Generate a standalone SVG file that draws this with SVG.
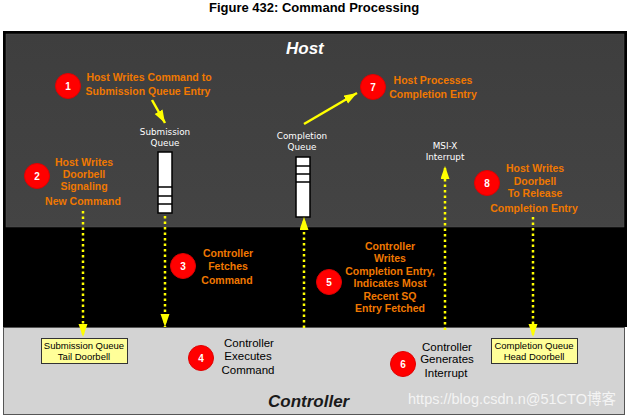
<svg xmlns="http://www.w3.org/2000/svg" width="631" height="419" viewBox="0 0 631 419">
<defs>
<style>
.title{font-family:"Liberation Sans",Arial,sans-serif;font-weight:bold;font-size:13px;fill:#000}
.or{font-family:"Liberation Sans",Arial,sans-serif;font-weight:bold;font-size:10.5px;fill:#f07800;text-anchor:middle}
.bk{font-family:"Liberation Sans",Arial,sans-serif;font-size:11.5px;fill:#000;text-anchor:middle}
.ql{font-family:"DejaVu Sans",sans-serif;font-size:8.8px;fill:#fff;text-anchor:middle}
.db{font-family:"Liberation Sans",Arial,sans-serif;font-size:9.5px;fill:#000;text-anchor:middle}
.num{font-family:"Liberation Sans",Arial,sans-serif;font-weight:bold;font-size:10px;fill:#fff;text-anchor:middle}
.circ{fill:#ff0000;stroke:#e00000;stroke-width:1}
.dot{stroke:#ffff00;stroke-width:2.5;stroke-dasharray:2.5 3;fill:none}
.sol{stroke:#ffff00;stroke-width:2.5;fill:none}
.dbox{fill:#ffff99;stroke:#333;stroke-width:1}
.q{fill:#fff;stroke:#000;stroke-width:1.5}
.qd{stroke:#000;stroke-width:1.5}
</style>
<marker id="ah" markerUnits="userSpaceOnUse" markerWidth="14" markerHeight="10" refX="13" refY="4.5" orient="auto">
<path d="M0,0 L13,4.5 L0,9 Z" fill="#ffff00"/>
</marker>
<linearGradient id="hostg" x1="0" y1="0" x2="0" y2="1">
<stop offset="0" stop-color="#3e3e3e"/>
<stop offset="1" stop-color="#444444"/>
</linearGradient>
</defs>
<rect x="0" y="0" width="631" height="419" fill="#fff"/>
<text class="title" x="209" y="12">Figure 432: Command Processing</text>

<g id="frame">
<rect x="3" y="31" width="624" height="296" fill="#000"/>
<rect id="host-panel" x="6" y="34" width="618" height="193" fill="url(#hostg)" stroke="#555" stroke-width="0.5"/>
<rect id="controller-panel" x="3.5" y="327.5" width="621" height="87" fill="#d3d3d3" stroke="#555" stroke-width="1"/>
<text x="286" y="54" font-family="Liberation Sans,Arial,sans-serif" font-weight="bold" font-style="italic" font-size="17" fill="#fff">Host</text>
<text x="268" y="407" font-family="Liberation Sans,Arial,sans-serif" font-weight="bold" font-style="italic" font-size="17" fill="#1a1a1a">Controller</text>
</g>

<g id="connectors">
<line class="sol" x1="152" y1="100" x2="165" y2="123" marker-end="url(#ah)"/>
<line class="sol" x1="304" y1="124" x2="357" y2="93" marker-end="url(#ah)"/>
<line class="dot" x1="83" y1="211" x2="83" y2="337" marker-end="url(#ah)"/>
<line class="dot" x1="165" y1="216" x2="165" y2="327" marker-end="url(#ah)"/>
<line class="dot" x1="304" y1="328" x2="304" y2="217" marker-end="url(#ah)"/>
<line class="dot" x1="445" y1="330" x2="445" y2="166" marker-end="url(#ah)"/>
<line class="dot" x1="533" y1="217" x2="533" y2="337" marker-end="url(#ah)"/>
</g>

<g id="submission-queue">
<rect class="q" x="158" y="152" width="14" height="61"/>
<line class="qd" x1="158" y1="187" x2="172" y2="187"/>
<line class="qd" x1="158" y1="196" x2="172" y2="196"/>
<line class="qd" x1="158" y1="204" x2="172" y2="204"/>
<text class="ql" x="165" y="135">Submission</text>
<text class="ql" x="165" y="146">Queue</text>
</g>

<g id="completion-queue">
<rect class="q" x="296" y="157" width="14" height="60"/>
<line class="qd" x1="296" y1="166" x2="310" y2="166"/>
<line class="qd" x1="296" y1="174" x2="310" y2="174"/>
<line class="qd" x1="296" y1="182" x2="310" y2="182"/>
<text class="ql" x="302" y="139">Completion</text>
<text class="ql" x="302" y="150">Queue</text>
</g>

<g id="msix">
<text class="ql" x="445" y="149">MSI-X</text>
<text class="ql" x="445" y="160">Interrupt</text>
</g>

<g id="sq-tail-doorbell">
<rect class="dbox" x="41.5" y="338.5" width="86" height="25"/>
<text class="db" x="84" y="349">Submission Queue</text>
<text class="db" x="84" y="360">Tail Doorbell</text>
</g>

<g id="cq-head-doorbell">
<rect class="dbox" x="491.5" y="338.5" width="86" height="25"/>
<text class="db" x="534" y="349">Completion Queue</text>
<text class="db" x="534" y="360">Head Doorbell</text>
</g>

<g id="step1">
<circle class="circ" cx="68" cy="86" r="12.5"/>
<text class="num" x="68" y="90">1</text>
<text class="or" x="149" y="81">Host Writes Command to</text>
<text class="or" x="148" y="95">Submission Queue Entry</text>
</g>

<g id="step2">
<circle class="circ" cx="37" cy="176" r="12.5"/>
<text class="num" x="37" y="180">2</text>
<text class="or" x="84" y="166">Host Writes</text>
<text class="or" x="84" y="178">Doorbell</text>
<text class="or" x="84" y="190">Signaling</text>
<text class="or" x="83" y="205">New Command</text>
</g>

<g id="step3">
<circle class="circ" cx="183" cy="266" r="12.5"/>
<text class="num" x="183" y="270">3</text>
<text class="or" x="228" y="257">Controller</text>
<text class="or" x="228" y="270">Fetches</text>
<text class="or" x="227" y="284">Command</text>
</g>

<g id="step4">
<circle class="circ" cx="201" cy="358" r="12.5"/>
<text class="num" x="201" y="362">4</text>
<text class="bk" x="249" y="347">Controller</text>
<text class="bk" x="248" y="360">Executes</text>
<text class="bk" x="248" y="374">Command</text>
</g>

<g id="step5">
<circle class="circ" cx="329" cy="282" r="12.5"/>
<text class="num" x="329" y="286">5</text>
<text class="or" x="390" y="250">Controller</text>
<text class="or" x="390" y="262">Writes</text>
<text class="or" x="390" y="275">Completion Entry,</text>
<text class="or" x="390" y="287">Indicates Most</text>
<text class="or" x="390" y="300">Recent SQ</text>
<text class="or" x="390" y="312">Entry Fetched</text>
</g>

<g id="step6">
<circle class="circ" cx="403" cy="364" r="12.5"/>
<text class="num" x="403" y="368">6</text>
<text class="bk" x="447" y="351">Controller</text>
<text class="bk" x="447" y="363">Generates</text>
<text class="bk" x="446" y="377">Interrupt</text>
</g>

<g id="step7">
<circle class="circ" cx="373" cy="87" r="12.5"/>
<text class="num" x="373" y="91">7</text>
<text class="or" x="433" y="84">Host Processes</text>
<text class="or" x="433" y="98">Completion Entry</text>
</g>

<g id="step8">
<circle class="circ" cx="487" cy="183" r="12.5"/>
<text class="num" x="487" y="187">8</text>
<text class="or" x="535" y="172">Host Writes</text>
<text class="or" x="535" y="185">Doorbell</text>
<text class="or" x="535" y="197">To Release</text>
<text class="or" x="534" y="212">Completion Entry</text>
</g>

<g id="watermark" opacity="0.75">
<text x="408" y="404" font-family="Liberation Sans,Arial,'Noto Sans CJK SC',sans-serif" font-size="15" fill="#fff" textLength="208" lengthAdjust="spacingAndGlyphs">https://blog.csdn.n@51CTO博客</text>
</g>
</svg>
